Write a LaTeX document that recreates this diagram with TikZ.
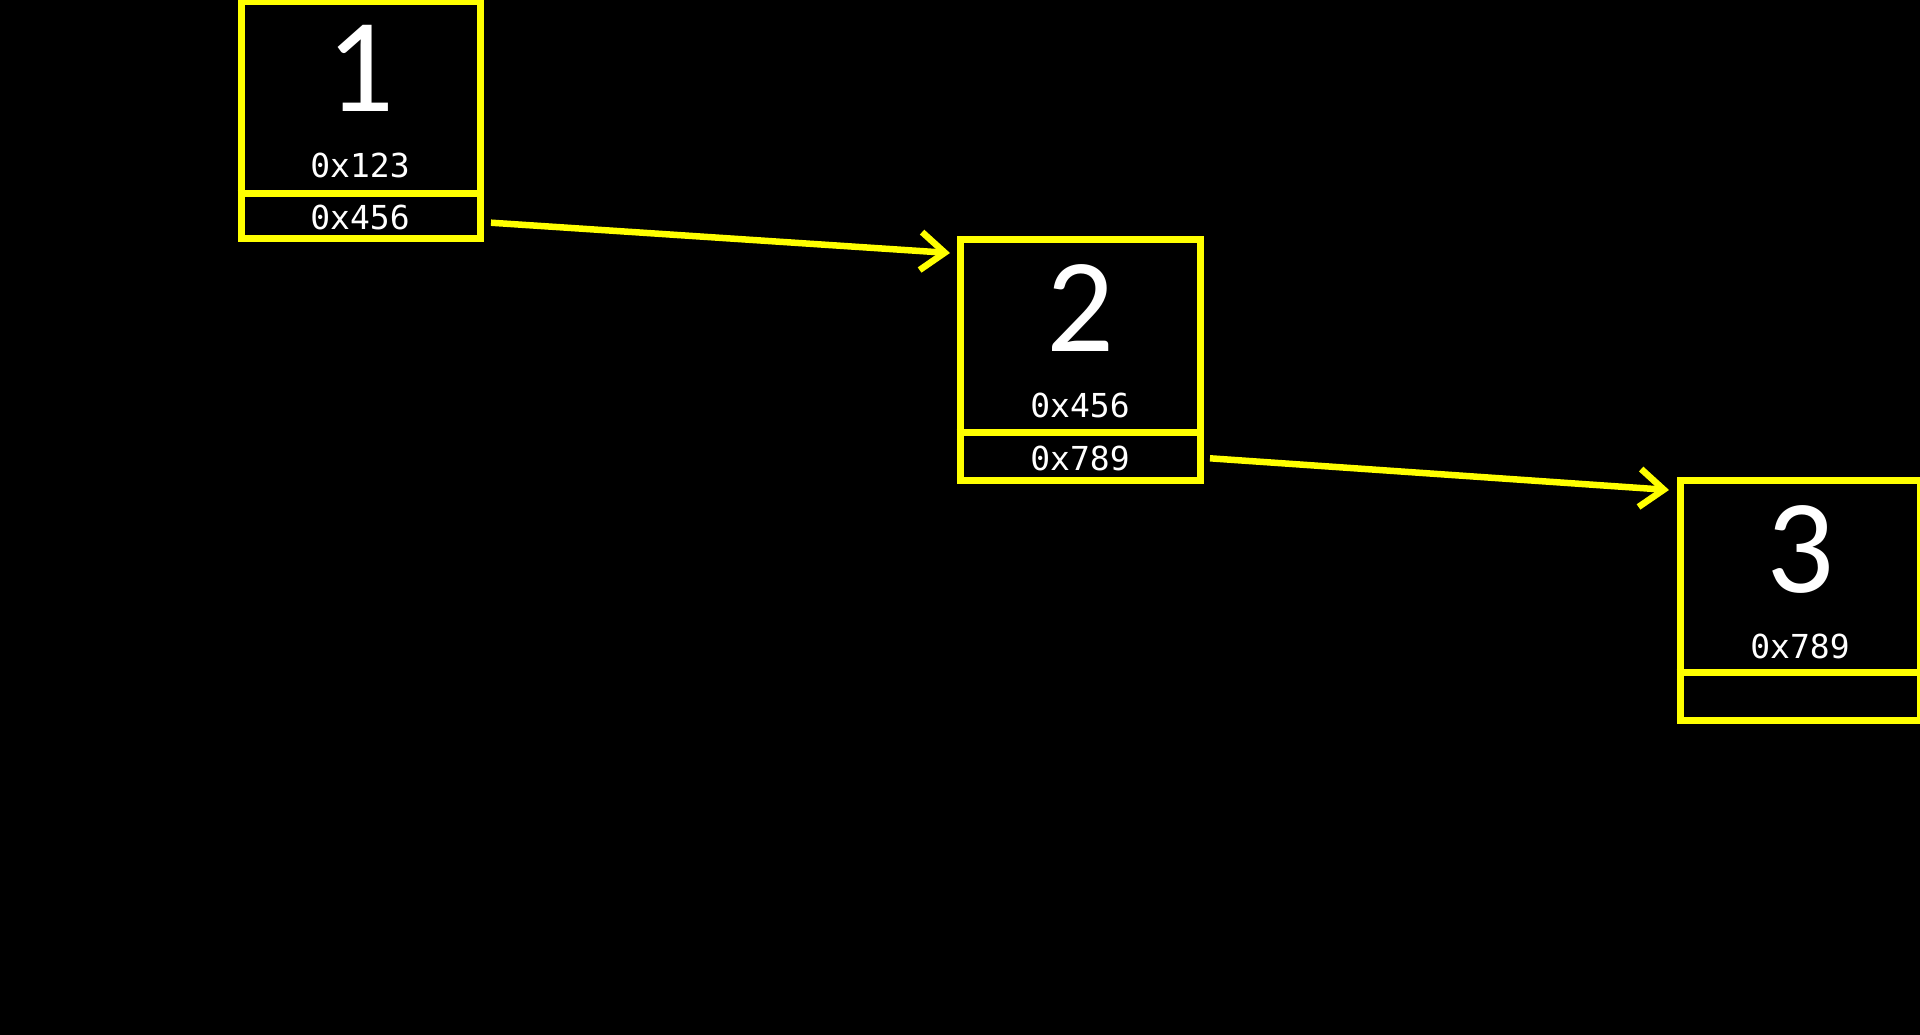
\documentclass[tikz,border=0pt]{standalone}
\usepackage{fontspec}
\newfontfamily\digitfont{Carlito}
\newfontfamily\hexfont{DejaVu Sans Mono}
\usetikzlibrary{arrows.meta}
\definecolor{ylw}{RGB}{255,255,0}
\begin{document}
\begin{tikzpicture}[x=1pt,y=-1pt,
  cell/.style={draw=ylw,line width=7pt,rectangle,inner sep=0pt,minimum width=239pt},
  divline/.style={draw=ylw,line width=7pt},
  bignum/.style={text=white,font=\digitfont\fontsize{134}{134}\selectfont,inner sep=0pt},
  hexlabel/.style={text=white,font=\hexfont\fontsize{33}{33}\selectfont,inner sep=0pt},
  link/.style={draw=ylw,line width=6.5pt,-{Straight Barb[length=24pt,width=38pt]}}]
\fill[black] (0,0) rectangle (1920,1035);
\useasboundingbox (0,0) rectangle (1920,1035);
% boxes
\node[cell,minimum height=237pt] (b1) at (360.5,120.5) {};
\node[cell,minimum height=240pt,minimum width=240pt] (b2) at (1080,360) {};
\node[cell,minimum height=240pt,minimum width=240pt] (b3) at (1800,600) {};
% dividers
\draw[divline] (b1.west |- 0,194) -- (b1.east |- 0,194);
\draw[divline] (b2.west |- 0,432) -- (b2.east |- 0,432);
\draw[divline] (b3.west |- 0,672) -- (b3.east |- 0,672);
% texts
\node[bignum] (n1) at (360,68) {1};
\node[bignum] (n2) at (1080,308) {2};
\node[bignum] (n3) at (1800,549) {3};
\node[hexlabel] (h1) at (360,165) {0x123};
\node[hexlabel] (p1) at (360,217) {0x456};
\node[hexlabel] (h2) at (1080,405) {0x456};
\node[hexlabel] (p2) at (1080,458) {0x789};
\node[hexlabel] (h3) at (1800,646) {0x789};
% arrows
\coordinate (s1) at (491,222.7);
\coordinate (t1) at (950,253);
\coordinate (s2) at (1210,458.3);
\coordinate (t2) at (1669,490);
\draw[link] (s1) -- (t1);
\draw[link] (s2) -- (t2);
\end{tikzpicture}
\end{document}
